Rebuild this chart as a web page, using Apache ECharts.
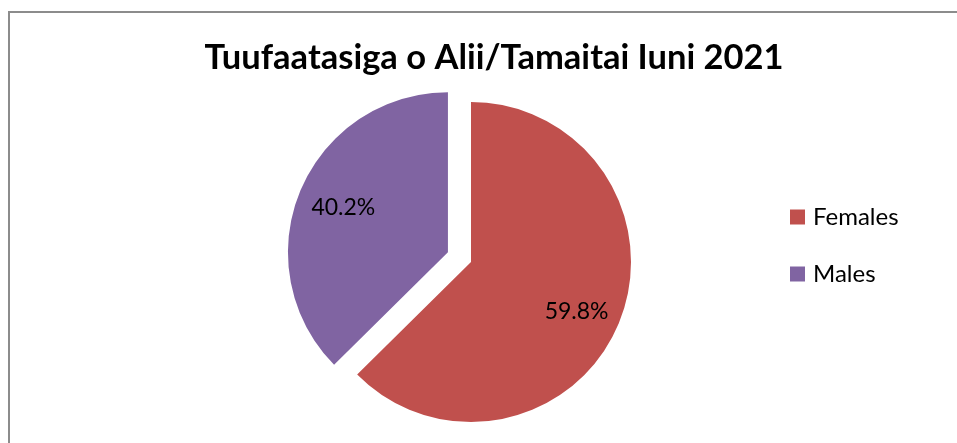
<!DOCTYPE html>
<html>
<head>
<meta charset="utf-8">
<script src="https://cdn.jsdelivr.net/npm/echarts@6/dist/echarts.min.js"></script>
<style>
  html, body { margin: 0; padding: 0; background: #fff; }
  #frame { position: absolute; left: 8px; top: 11px; width: 1000px; height: 500px; border-left: 2px solid #8c8c8c; border-top: 2px solid #8c8c8c; box-sizing: border-box; }
  #chart { position: absolute; left: 0; top: 0; width: 957px; height: 443px; }
</style>
</head>
<body>
<div id="frame"></div>
<div id="chart"></div>
<script>
const titleText = 'Tuufaatasiga o Alii/Tamaitai Iuni 2021';
const categories = ['Females', 'Males'];
// slice sizes as drawn (angles)
const sliceValues = [62.6, 37.4];
// percentages printed on the slices
const sliceLabels = ['59.8%', '40.2%'];
const colors = ['#C0504D', '#8064A2'];

// extra push of the labels beyond the default inner radius
const labelShift = [[29, 18], [-28, -13]];

const chart = echarts.init(document.getElementById('chart'), null, { renderer: 'canvas' });

const option = {
  animation: false,
  title: {
    text: titleText,
    left: 489,
    textAlign: 'center',
    top: 35,
    textStyle: {
      fontFamily: 'Lato',
      fontWeight: 'bold',
      fontSize: 34.5,
      color: '#000'
    }
  },
  legend: {
    orient: 'vertical',
    left: 785,
    top: 200,
    itemWidth: 15,
    itemHeight: 15,
    itemGap: 33,
    icon: 'rect',
    selectedMode: false,
    data: categories,
    textStyle: {
      fontFamily: 'Lato',
      fontSize: 24,
      color: '#000',
      padding: [0, 0, 0, 3]
    }
  },
  series: [{
    type: 'pie',
    center: [471, 262],
    radius: [0, 160],
    startAngle: 90,
    clockwise: true,
    selectedMode: 'multiple',
    selectedOffset: 25,
    avoidLabelOverlap: false,
    label: {
      show: true,
      position: 'inside',
      formatter: (p) => sliceLabels[p.dataIndex],
      fontFamily: 'Lato',
      fontSize: 23,
      color: '#000'
    },
    labelLayout: (params) => ({
      dx: labelShift[params.dataIndex][0],
      dy: labelShift[params.dataIndex][1]
    }),
    labelLine: { show: false },
    emphasis: { disabled: true },
    itemStyle: { borderWidth: 0 },
    data: categories.map((name, i) => ({
      name: name,
      value: sliceValues[i],
      selected: i === 1,
      itemStyle: { color: colors[i] }
    }))
  }]
};

chart.setOption(option);
</script>
</body>
</html>
